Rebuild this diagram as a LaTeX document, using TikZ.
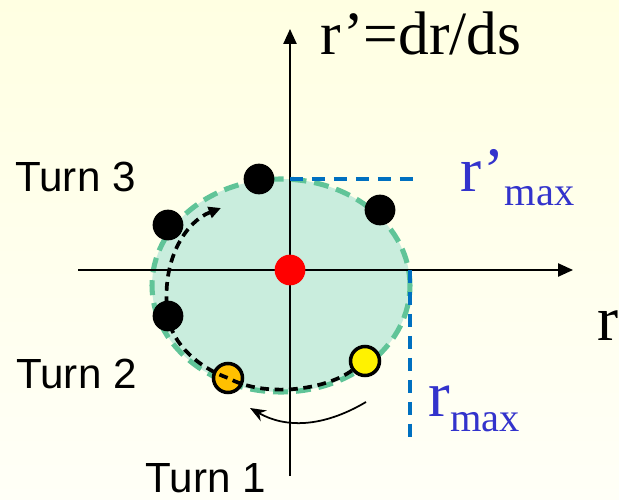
\documentclass[tikz,border=0pt]{standalone}
\usepackage{fontspec}
\setmainfont{Liberation Serif}
\newfontfamily\turnfont{Liberation Sans}
\usepackage{tikz}
\usetikzlibrary{
	arrows.meta,
	calc,
	positioning
}
\definecolor{PaleYellow}{RGB}{255, 255, 226}
\definecolor{PaleWhite}{RGB}{255, 255, 247}
\definecolor{MintFill}{RGB}{201, 237, 221}
\definecolor{MintLine}{RGB}{96, 196, 152}
\definecolor{MaxBlue}{RGB}{0, 112, 192}
\definecolor{TextBlue}{RGB}{51, 51, 204}
\definecolor{TurnOrange}{RGB}{255, 192, 0}
\tikzset{
	particle/.style={circle, fill=black, minimum size=17.5pt, inner sep=0pt},
	marked/.style={circle, draw=black, line width=2pt, minimum size=16.5pt, inner sep=0pt},
	axis/.style={line width=1pt, -{Triangle[length=8.5pt, width=7.5pt]}},
	maxline/.style={MaxBlue, line width=1.8pt, dash pattern=on 7.5pt off 5pt},
	orbit/.style={line width=2.1pt, dash pattern=on 5pt off 3.2pt},
	turnlabel/.style={anchor=base west, inner sep=0pt, font=\turnfont\fontsize{24pt}{24pt}\selectfont}
}

\begin{document}
\begin{tikzpicture}[x=0.02cm, y=-0.02cm] % 以像素为单位，y 轴向下
		\shade[top color=PaleYellow, bottom color=PaleWhite] (0,0) rectangle (619,500);
		\useasboundingbox (0,0) rectangle (619,500);
		% 相空间椭圆
		\fill[MintFill] (281,285.5) ellipse [x radius=2.58cm, y radius=2.13cm];
		\draw[MintLine, line width=2.9pt, dash pattern=on 8.5pt off 4.5pt] (281,285.5) ellipse [x radius=2.58cm, y radius=2.13cm];
		\coordinate (O) at (290,270);
		\coordinate (xL) at (78,270);
		\coordinate (xR) at (573,270);
		\coordinate (yB) at (290,476);
		\coordinate (yT) at (290,29);
		\draw[axis] (xL) -- (xR);
		\draw[axis] (yB) -- (yT);
		\coordinate (rpTop) at (290,179);
		\coordinate (rpEnd) at (416,179);
		\coordinate (rRight) at (410,270);
		\coordinate (rEnd) at (410,437);
		\draw[maxline] (rpTop) -- (rpEnd);
		\draw[maxline] (rRight) -- (rEnd);
		\node[particle, fill=red] (ctr) at (O) {};
		\foreach \p/\xy in {topM/{259,179}, topR/{380,210}, upL/{168,225}, lowL/{168,316}}
		\node[particle] (\p) at (\xy) {};
		\node[marked, fill=TurnOrange] (org) at (228,378) {};
		\node[marked, fill=yellow] (yel) at (365,361) {};
		\coordinate (tip) at (221,208);
		\draw[orbit, -{Triangle[length=7pt, width=6.5pt]}] (yel) .. controls (325,390) and (265,398) .. (org.center) .. controls (200,368) and (172,345) .. (lowL.center) .. controls (160,262) and (185,222) .. (tip);
		\coordinate (sweepA) at (366,402);
		\coordinate (sweepB) at (250,408);
		\draw[line width=1pt, -{Stealth[length=9pt, width=7pt]}] (sweepA) .. controls (322,428) and (285,428) .. (sweepB);
		% 文字
		\node[anchor=base west, inner sep=0pt, font=\fontsize{35pt}{35pt}\selectfont] (ylab) at (320,55) {r’=dr/ds};
		\node[anchor=base west, inner sep=0pt, font=\fontsize{36pt}{36pt}\selectfont] (xlab) at (597,340) {r};
		\node[turnlabel] (t3) at (15,192) {Turn 3};
		\node[turnlabel] (t2) at (16,388) {Turn 2};
		\node[turnlabel] (t1) at (145,492) {Turn 1};
		\node[anchor=base west, inner sep=0pt, text=TextBlue] (rpmax) at (460,192) {\fontsize{36pt}{36pt}\selectfont r’\raisebox{-7.4pt}{\fontsize{23pt}{23pt}\selectfont max}};
		\node[anchor=base west, inner sep=0pt, text=TextBlue] (rmax) at (428,416) {\fontsize{37pt}{37pt}\selectfont r\raisebox{-9pt}{\fontsize{23pt}{23pt}\selectfont max}};
	\end{tikzpicture}
\end{document}
